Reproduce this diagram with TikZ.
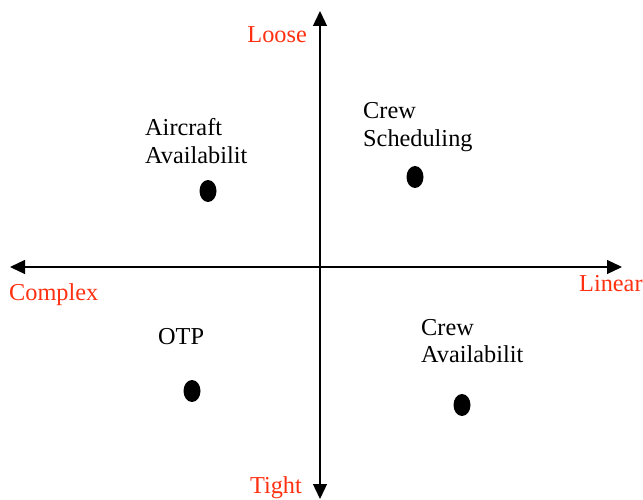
\documentclass[tikz,border=0pt]{standalone}
\usepackage{fontspec}
\setmainfont{Liberation Serif}
\usetikzlibrary{arrows.meta,shapes.geometric}
\definecolor{axislabel}{RGB}{255,48,16}
\begin{document}
\begin{tikzpicture}[x=1pt,y=-1pt,
  axis/.style={line width=1.3pt,-{Triangle[length=15pt,width=14pt]}},
  dot/.style={ellipse,fill=black,minimum width=17pt,minimum height=22pt,inner sep=0pt},
  item/.style={font=\fontsize{24.3}{27.5}\selectfont,align=left,anchor=west,inner sep=0pt},
  axlab/.style={font=\fontsize{24.3}{27.5}\selectfont,text=axislabel,inner sep=0pt}]
\useasboundingbox (0,0) rectangle (643,500);
% axes
\coordinate (o) at (320,267);
\coordinate (top) at (320,11);
\coordinate (bot) at (320,499);
\coordinate (left) at (10,267);
\coordinate (right) at (622,267);
\draw[axis] (o) -- (top);
\draw[axis] (o) -- (bot);
\draw[axis] (o) -- (left);
\draw[axis] (o) -- (right);
% axis labels
\node[axlab,anchor=east] (loose) at (307,35) {Loose};
\node[axlab,anchor=east] (tight) at (302,488) {Tight};
\node[axlab,anchor=west] (complex) at (9,295) {Complex};
\node[axlab,anchor=west] (linear) at (579,284) {Linear};
% plotted items
\node[item] (ac) at (145,141) {Aircraft\\Availabilit};
\node[dot] (acd) at (208,191) {};
\node[item] (cs) at (363,127) {Crew\\Scheduling};
\node[dot] (csd) at (415,177) {};
\node[item] (otp) at (158,337) {OTP};
\node[dot] (otpd) at (192,391) {};
\node[item] (ca) at (421,341) {Crew\\Availabilit};
\node[dot] (cad) at (462,405) {};
\end{tikzpicture}
\end{document}
